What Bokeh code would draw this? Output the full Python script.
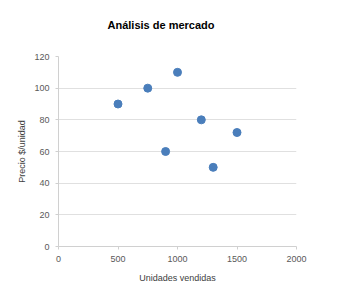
from bokeh.plotting import figure
from bokeh.embed import file_html
from bokeh.resources import INLINE
from bokeh.models import ColumnDataSource, FixedTicker, Range1d

units = [500, 750, 1000, 1200, 1500, 900, 1300]
price = [90, 100, 110, 80, 72, 60, 50]
x_ticks = [0, 500, 1000, 1500, 2000]
y_ticks = [0, 20, 40, 60, 80, 100, 120]

FONT = "Liberation Sans"
src = ColumnDataSource(dict(x=units, y=price))

p = figure(width=340, height=293, output_backend="svg", toolbar_location=None,
           x_range=Range1d(0, 2000), y_range=Range1d(0, 120),
           min_border_left=58, min_border_right=44, min_border_top=56, min_border_bottom=47)
p.scatter("x", "y", source=src, size=8, color="#4a7ebb", line_color="#4a7ebb")

p.title.text = "Análisis de mercado\n "
p.title.text_font = FONT
p.title.text_font_size = "11px"
p.title.text_font_style = "bold"
p.title.text_color = "#000000"
p.title.align = "left"
p.title.offset = 49
p.title.standoff = 28

p.outline_line_color = None
p.xgrid.grid_line_color = None
p.ygrid.grid_line_color = "#e0e0e0"
p.ygrid.grid_line_width = 1

for ax in (p.xaxis[0], p.yaxis[0]):
    ax.axis_line_color = "#d0d0d0"
    ax.major_tick_line_color = "#d0d0d0"
    ax.minor_tick_line_color = None
    ax.major_tick_in = 0
    ax.major_tick_out = 3
    ax.major_label_text_font = FONT
    ax.major_label_text_font_size = "9px"
    ax.major_label_text_color = "#595959"
    ax.axis_label_text_font = FONT
    ax.axis_label_text_font_size = "9px"
    ax.axis_label_text_font_style = "normal"
    ax.axis_label_text_color = "#404040"

p.xaxis[0].ticker = FixedTicker(ticks=x_ticks)
p.yaxis[0].ticker = FixedTicker(ticks=y_ticks)
p.xaxis[0].axis_label = "Unidades vendidas"
p.yaxis[0].axis_label = "Precio $/unidad"
p.xaxis[0].major_label_standoff = 6
p.yaxis[0].major_label_standoff = 6
p.xaxis[0].axis_label_standoff = 8
p.yaxis[0].axis_label_standoff = 4

open("out.html", "w").write(file_html(p, INLINE))
